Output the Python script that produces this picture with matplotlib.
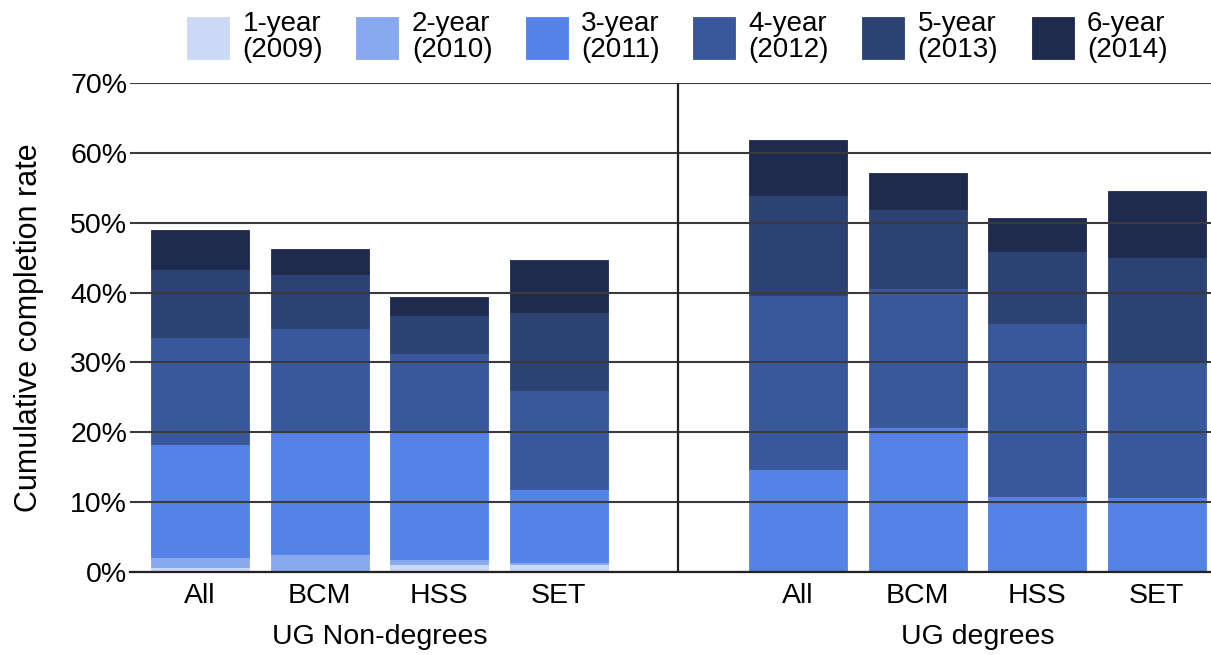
import matplotlib
matplotlib.use("Agg")
import matplotlib.pyplot as plt
import numpy as np

plt.rcParams['font.family'] = ['Liberation Sans', 'DejaVu Sans']

categories = ["All", "BCM", "HSS", "SET", "All", "BCM", "HSS", "SET"]
groups = ["UG Non-degrees", "UG degrees"]
series = ["1-year\n(2009)", "2-year\n(2010)", "3-year\n(2011)",
          "4-year\n(2012)", "5-year\n(2013)", "6-year\n(2014)"]
colors = ["#ccd9f6", "#88a9ef", "#5582e6", "#39589b", "#2c4272", "#1e2a4e"]

# cumulative completion rate (%) at each year, per bar
cum_1yr = [0.7, 0.25, 1.1, 1.2, 0.0, 0.0, 0.0, 0.0]
cum_2yr = [2.15, 2.6, 1.9, 1.5, 0.0, 0.0, 0.0, 0.0]
cum_3yr = [18.3, 20.0, 20.3, 11.9, 14.8, 20.7, 10.9, 10.7]
cum_4yr = [33.7, 34.9, 31.3, 26.1, 39.7, 40.7, 35.7, 30.2]
cum_5yr = [43.4, 42.6, 36.8, 37.2, 54.0, 51.9, 46.0, 45.1]
cum_6yr = [48.9, 46.3, 39.3, 44.6, 61.9, 57.1, 50.7, 54.6]

cums = [cum_1yr, cum_2yr, cum_3yr, cum_4yr, cum_5yr, cum_6yr]
yticks = [0, 10, 20, 30, 40, 50, 60, 70]

W, H = 1211, 655
fig = plt.figure(figsize=(W / 100, H / 100), dpi=100)
ax = fig.add_axes([130 / W, (H - 572) / H, (W - 130) / W, (572 - 83) / H])

pos = np.array([0, 1, 2, 3, 5, 6, 7, 8])
prev = np.zeros(len(pos))
for lab, col, cum in zip(series, colors, cums):
    cum = np.array(cum)
    ax.bar(pos, cum - prev, bottom=prev, width=0.82, color=col,
           edgecolor=col, linewidth=0.6, label=lab, zorder=1)
    prev = cum

ax.set_xlim(-0.585, 8.453)
ax.set_ylim(0, 70)
ax.set_yticks(yticks)
ax.set_yticklabels([f"{v}%" for v in yticks], fontsize=20.5)
ax.set_xticks(pos)
ax.set_xticklabels(categories, fontsize=20.5)
ax.tick_params(axis='both', length=0)
ax.tick_params(axis='y', pad=2)
ax.tick_params(axis='x', pad=8)

ax.set_axisbelow(False)
ax.grid(axis='y', color='#3a3a3a', linewidth=1.5, zorder=3)
ax.grid(axis='x', visible=False)
for s in ['top', 'right', 'left']:
    ax.spines[s].set_visible(False)
ax.spines['bottom'].set_color('#222222')
ax.spines['bottom'].set_linewidth(1.6)
ax.spines['bottom'].set_zorder(4)
ax.axvline(4, color='#222222', linewidth=1.6, zorder=4)

tr = ax.get_xaxis_transform()
ax.text(1.5, -0.133, groups[0], transform=tr, ha='center', va='center', fontsize=20.5)
ax.text(6.5, -0.133, groups[1], transform=tr, ha='center', va='center', fontsize=20.5)

ax.set_ylabel("Cumulative completion rate", fontsize=22, labelpad=19)

fs = 20
em = fs * 100 / 72
hh = (42 / em - 0.245) / 0.65
leg = fig.legend(loc='center left', bbox_to_anchor=(187 / W, 1 - 37 / H), ncol=6,
                 fontsize=fs, frameon=False, handlelength=42 / em, handleheight=hh,
                 handletextpad=13.4 / em, columnspacing=1.2, borderaxespad=0.0,
                 borderpad=0.0)
for t in leg.get_texts():
    t.set_linespacing(1.0)

fig.savefig("out.png", dpi=100)
